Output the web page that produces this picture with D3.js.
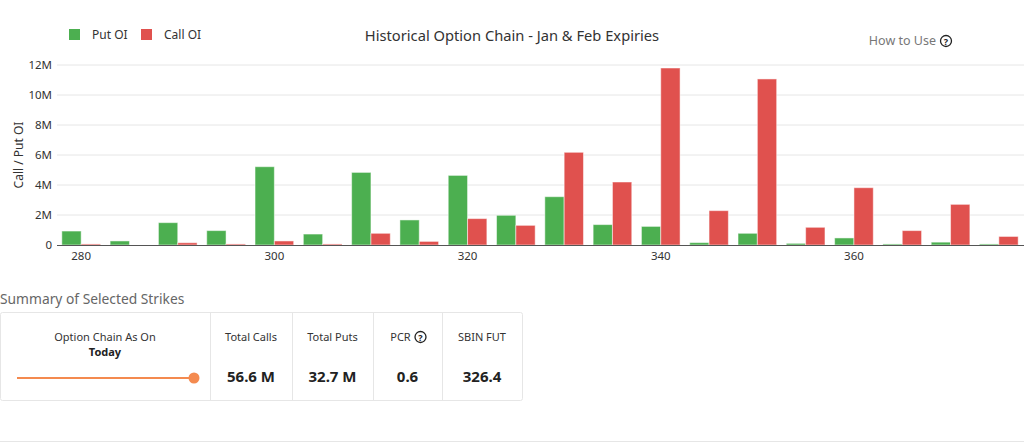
<!DOCTYPE html>
<head>
    <meta charset="utf-8">
    <title>Historical Option Chain</title>
    <script src="https://d3js.org/d3.v7.min.js"></script>
    <style>
        body { margin: 0; background: #fff; font-family: "Noto Sans", sans-serif; }
        svg text { font-family: "Noto Sans", sans-serif; }
        .axis path, .axis line { stroke: #555; }
        .axis text { fill: #333; font-size: 11.5px; }
    </style>
</head>
<body>
    <div id="container"></div>
    <script>
        //------------------------DATA------------------------//
        var strikes = [280, 285, 290, 295, 300, 305, 310, 315, 320, 325, 330, 335, 340, 345, 350, 355, 360, 365, 370, 375];
        var putOI = [0.93, 0.27, 1.49, 0.96, 5.22, 0.73, 4.84, 1.67, 4.64, 1.98, 3.22, 1.36, 1.24, 0.16, 0.78, 0.11, 0.47, 0.07, 0.19, 0.07];
        var callOI = [0.07, 0.0, 0.15, 0.07, 0.27, 0.07, 0.78, 0.24, 1.76, 1.31, 6.18, 4.2, 11.8, 2.29, 11.07, 1.18, 3.82, 0.96, 2.71, 0.57];
        var xTickLabels = [280, 300, 320, 340, 360];
        var yTicks = [0, 2, 4, 6, 8, 10, 12];
        var seriesNames = ["Put OI", "Call OI"];
        var summaryLabels = ["Total Calls", "Total Puts", "PCR", "SBIN FUT"];
        var summaryValues = ["56.6 M", "32.7 M", "0.6", "326.4"];

        var color = d3.scaleOrdinal().domain(["put", "call"]).range(["#4caf50", "#e0514e"]);

        var W = 1024, H = 444;
        var svg = d3.select("#container").append("svg").attr("width", W).attr("height", H);

        //------------------------SCALES------------------------//
        var x0 = d3.scaleBand().domain(strikes).range([57, 1023]).paddingInner(0.2).paddingOuter(0.1);
        var x1 = d3.scaleBand().domain(["put", "call"]).range([0, x0.bandwidth()]);
        var y = d3.scaleLinear().domain([0, 12]).range([245, 65]);

        // grid
        svg.append("g").selectAll("line").data(yTicks.slice(1)).enter().append("line")
            .attr("x1", 57).attr("x2", W).attr("y1", function (d) { return y(d); }).attr("y2", function (d) { return y(d); })
            .attr("stroke", "#e6e6e6").attr("stroke-width", 1);

        // y axis (labels only)
        var yaxis = d3.axisLeft(y).tickValues(yTicks).tickSize(0).tickPadding(5)
            .tickFormat(function (d) { return d === 0 ? "0" : d + "M"; });
        svg.append("g").attr("class", "axis").attr("transform", "translate(57,0)").call(yaxis)
            .call(function (g) { g.select(".domain").remove(); });

        // bars
        var rows = strikes.map(function (s, i) { return { strike: s, put: putOI[i], call: callOI[i] }; });
        var groups = svg.append("g").selectAll("g").data(rows).enter().append("g")
            .attr("transform", function (d) { return "translate(" + x0(d.strike) + ",0)"; });
        groups.selectAll("rect").data(function (d) {
            return ["put", "call"].map(function (k) { return { key: k, value: d[k] }; });
        }).enter().append("rect")
            .attr("x", function (d) { return x1(d.key); })
            .attr("width", x1.bandwidth())
            .attr("y", function (d) { return y(d.value); })
            .attr("height", function (d) { return y(0) - y(d.value); })
            .attr("fill", function (d) { return color(d.key); })
            .attr("stroke", "#fff").attr("stroke-opacity", 0.5).attr("stroke-width", 1);

        // x axis
        var xaxis = d3.axisBottom(x0).tickValues(xTickLabels).tickSize(0).tickPadding(7);
        var gx = svg.append("g").attr("class", "axis").attr("transform", "translate(0,245)").call(xaxis);
        gx.select(".domain").attr("d", "M57,0.5H" + W).attr("stroke", "#666");

        // y axis title
        svg.append("text").attr("transform", "translate(23,155) rotate(-90)")
            .attr("text-anchor", "middle").attr("font-size", 12).attr("fill", "#333").text("Call / Put OI");

        // legend
        var legendX = [69, 141];
        var lg = svg.append("g").selectAll("g").data(seriesNames).enter().append("g")
            .attr("transform", function (d, i) { return "translate(" + legendX[i] + ",29)"; });
        lg.append("rect").attr("width", 11).attr("height", 11)
            .attr("fill", function (d, i) { return color(["put", "call"][i]); });
        lg.append("text").attr("x", 23).attr("y", 10).attr("font-size", 12).attr("fill", "#333")
            .text(function (d) { return d; });

        // title
        svg.append("text").attr("x", 512).attr("y", 41).attr("text-anchor", "middle")
            .attr("font-size", 14.7).attr("fill", "#333").text("Historical Option Chain - Jan & Feb Expiries");

        // how to use
        function helpIcon(parent, cx, cy) {
            var g = parent.append("g").attr("transform", "translate(" + cx + "," + cy + ")");
            g.append("circle").attr("r", 5.5).attr("fill", "none").attr("stroke", "#222").attr("stroke-width", 1.3);
            g.append("text").attr("y", 3.5).attr("text-anchor", "middle").attr("font-size", 9)
                .attr("font-weight", "bold").attr("fill", "#222").text("?");
        }
        svg.append("text").attr("x", 936).attr("y", 45).attr("text-anchor", "end")
            .attr("font-size", 12.5).attr("fill", "#777").text("How to Use");
        helpIcon(svg, 946, 41);

        //------------------------SUMMARY------------------------//
        svg.append("text").attr("x", 0).attr("y", 304).attr("font-size", 13.8).attr("fill", "#666")
            .text("Summary of Selected Strikes");

        svg.append("rect").attr("x", 0.5).attr("y", 312.5).attr("width", 522).attr("height", 88)
            .attr("rx", 2).attr("fill", "#fff").attr("stroke", "#e6e6e6");
        var cellEdges = [0, 210, 292, 373, 442, 522];
        svg.append("g").selectAll("line").data(cellEdges.slice(1, 5)).enter().append("line")
            .attr("x1", function (d) { return d + 0.5; }).attr("x2", function (d) { return d + 0.5; })
            .attr("y1", 313).attr("y2", 400).attr("stroke", "#e6e6e6");

        svg.append("text").attr("x", 105).attr("y", 341).attr("text-anchor", "middle")
            .attr("font-size", 11).attr("fill", "#333").text("Option Chain As On");
        svg.append("text").attr("x", 105).attr("y", 356).attr("text-anchor", "middle")
            .attr("font-size", 11).attr("font-weight", "bold").attr("fill", "#222").text("Today");
        svg.append("line").attr("x1", 17).attr("x2", 194).attr("y1", 378).attr("y2", 378)
            .attr("stroke", "#f48a4f").attr("stroke-width", 2);
        svg.append("circle").attr("cx", 194).attr("cy", 378).attr("r", 5.5).attr("fill", "#f48a4f");

        summaryLabels.forEach(function (lab, i) {
            var cx = (cellEdges[i + 1] + cellEdges[i + 2]) / 2;
            var t = svg.append("text").attr("x", cx).attr("y", 341).attr("text-anchor", "middle")
                .attr("font-size", 11).attr("fill", "#333").text(lab);
            if (lab === "PCR") {
                t.attr("x", cx - 7);
                helpIcon(svg, cx + 13, 337);
            }
            svg.append("text").attr("x", cx).attr("y", 382).attr("text-anchor", "middle")
                .attr("font-size", 15).attr("font-weight", "bold").attr("fill", "#222").text(summaryValues[i]);
        });

        // bottom divider
        svg.append("line").attr("x1", 0).attr("x2", W).attr("y1", 441.5).attr("y2", 441.5).attr("stroke", "#e6e6e6");
    </script>
</body>
